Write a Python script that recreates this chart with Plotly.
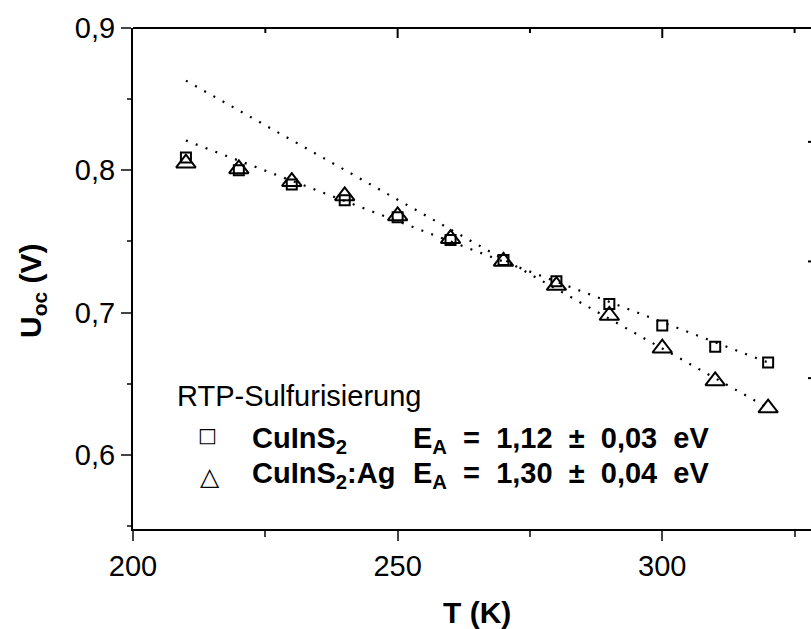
import plotly.graph_objects as go

# ---- data ----
T = [210, 220, 230, 240, 250, 260, 270, 280, 290, 300, 310, 320]
U_cuins2 = [0.809, 0.800, 0.790, 0.779, 0.767, 0.751, 0.737, 0.722, 0.706, 0.691, 0.676, 0.665]
U_cuins2_ag = [0.805, 0.801, 0.792, 0.782, 0.768, 0.752, 0.736, 0.719, 0.698, 0.675, 0.652, 0.633]

fit_T = [210, 320]
fit_cuins2 = [0.821, 0.665]
fit_cuins2_ag = [0.863, 0.633]

x_range = [200, 328.1]
y_range = [0.548, 0.9]
x_major = [200, 250, 300]
x_minor = [225, 275, 325]
y_major = [0.6, 0.7, 0.8, 0.9]
y_minor = [0.55, 0.65, 0.75, 0.85]
top_major = [250, 300]
right_ticks = [0.82, 0.736, 0.654]

legend_title = "RTP-Sulfurisierung"
sample_names = ["<b>CuInS<sub>2</sub></b>", "<b>CuInS<sub>2</sub>:Ag</b>"]
NB = "\u00a0"
activation = [
    "<b>E<sub>A</sub>" + NB * 2 + "=" + NB * 2 + "1,12" + NB * 2 + "±" + NB * 2 + "0,03" + NB * 2 + "eV</b>",
    "<b>E<sub>A</sub>" + NB * 2 + "=" + NB * 2 + "1,30" + NB * 2 + "±" + NB * 2 + "0,04" + NB * 2 + "eV</b>",
]

FONT = "Liberation Sans, Arial, sans-serif"

fig = go.Figure()

fig.add_trace(go.Scatter(x=fit_T, y=fit_cuins2, mode="lines", showlegend=False,
                         line=dict(color="black", width=2.2, dash="2px,8.5px"), hoverinfo="skip"))
fig.add_trace(go.Scatter(x=fit_T, y=fit_cuins2_ag, mode="lines", showlegend=False,
                         line=dict(color="black", width=2.2, dash="2px,8.5px"), hoverinfo="skip"))

fig.add_trace(go.Scatter(x=T, y=U_cuins2, mode="markers", name="CuInS2", showlegend=False,
                         marker=dict(symbol="square-open", size=10, color="black",
                                     line=dict(width=2, color="black"))))
fig.add_trace(go.Scatter(x=T, y=U_cuins2_ag, mode="markers", name="CuInS2:Ag", showlegend=False,
                         marker=dict(symbol="triangle-up-open", size=17, color="black",
                                     line=dict(width=2, color="black"))))


def px_x(px):
    return (px - 133) / 678.0


def px_y(py):
    return (529 - py) / 501.0


annotations = [
    dict(text="<b>T (K)</b>", x=0.507, y=-0.166, xanchor="center", yanchor="middle",
         font=dict(size=30)),
    dict(text="<b>U<sub>oc</sub> (V)</b>", x=-0.149, y=0.477, xanchor="center",
         yanchor="middle", textangle=-90, font=dict(size=30)),
    # legend block
    dict(text=legend_title, x=px_x(175), y=px_y(396), xanchor="left", yanchor="middle",
         font=dict(size=29)),
    dict(text="\u25a1", x=px_x(207.5), y=px_y(435), xanchor="center", yanchor="middle",
         font=dict(size=20, family="DejaVu Sans")),
    dict(text="\u25b3", x=px_x(210), y=px_y(476), xanchor="center", yanchor="middle",
         font=dict(size=25, family="DejaVu Sans")),
    dict(text=sample_names[0], x=px_x(250), y=px_y(440), xanchor="left", yanchor="middle",
         font=dict(size=29)),
    dict(text=sample_names[1], x=px_x(250), y=px_y(475), xanchor="left", yanchor="middle",
         font=dict(size=29)),
    dict(text=activation[0], x=px_x(411), y=px_y(440), xanchor="left", yanchor="middle",
         font=dict(size=29)),
    dict(text=activation[1], x=px_x(411), y=px_y(475), xanchor="left", yanchor="middle",
         font=dict(size=29)),
]
for a in annotations:
    a.update(xref="paper", yref="paper", showarrow=False)

LINE = dict(color="black", width=2)
shapes = []
# top frame line with inward ticks
shapes.append(dict(type="line", xref="paper", yref="paper", x0=0, x1=1, y0=1, y1=1, line=LINE))
for v in top_major:
    shapes.append(dict(type="line", xref="x", yref="paper", x0=v, x1=v,
                       y0=1, y1=1 - 10 / 501.0, line=LINE))
for v in x_minor:
    shapes.append(dict(type="line", xref="x", yref="paper", x0=v, x1=v,
                       y0=1, y1=1 - 5 / 501.0, line=LINE))
# small inward ticks of the (cropped) right-hand axis
for v in right_ticks:
    shapes.append(dict(type="line", xref="paper", yref="y", x0=1.0, x1=1.0 - 3 / 678.0,
                       y0=v, y1=v, line=LINE))

fig.update_layout(
    width=811, height=629,
    margin=dict(l=133, r=0, t=28, b=100),
    paper_bgcolor="white", plot_bgcolor="white",
    separators=",.",
    showlegend=False,
    font=dict(family=FONT, size=29, color="black"),
    xaxis=dict(range=x_range, tickvals=x_major, ticks="outside", ticklen=10,
               tickwidth=2, showline=True, linewidth=2, linecolor="black",
               showgrid=False, zeroline=False, tickfont=dict(size=29),
               minor=dict(tickvals=x_minor, ticks="outside", ticklen=6,
                          tickwidth=2, showgrid=False)),
    yaxis=dict(range=y_range, tickvals=y_major, tickformat=".1f",
               ticks="outside", ticklen=10, tickwidth=2, showline=True, linewidth=2,
               linecolor="black", showgrid=False, zeroline=False, tickfont=dict(size=29),
               minor=dict(tickvals=y_minor, ticks="outside", ticklen=4,
                          tickwidth=2, showgrid=False)),
    annotations=annotations,
    shapes=shapes,
)

fig.write_html("out.html")
